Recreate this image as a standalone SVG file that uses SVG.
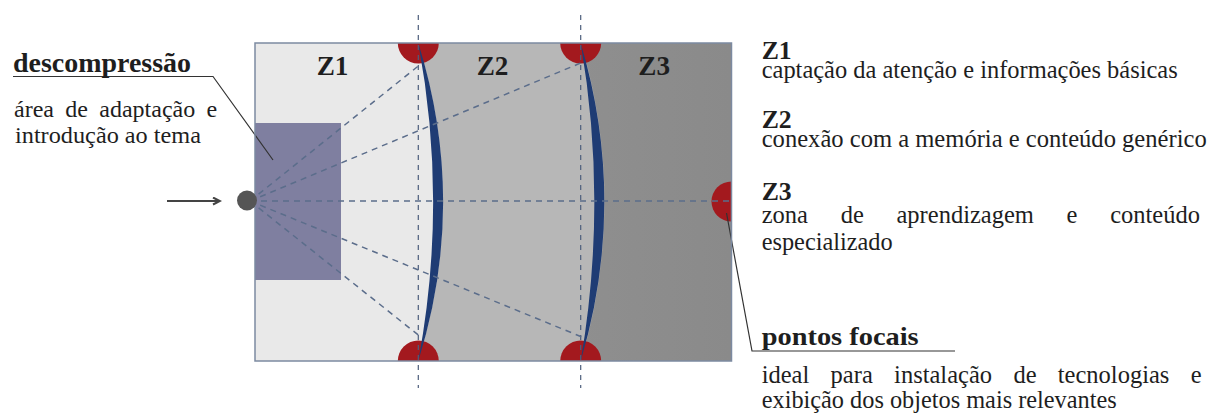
<svg xmlns="http://www.w3.org/2000/svg" width="1211" height="416" viewBox="0 0 1211 416">
<style>
text{font-family:"Liberation Serif","Times New Roman",Tinos,"Noto Serif","DejaVu Serif",serif;fill:#1e1e1e}
.r{font-size:24.5px}
.l{font-size:24px}
.b{font-weight:bold}
.ray{stroke:#5b6d8b;stroke-width:1.5;stroke-dasharray:6 5;fill:none}
.vd{stroke:#4d5e7c;stroke-width:1.2;stroke-dasharray:5 5;fill:none}
.lead{stroke:#333;stroke-width:1.2;fill:none}
.red{fill:#a3191e}
.cres{fill:#1f3c74}
</style>
<defs>
<marker id="ah" markerWidth="10" markerHeight="10" refX="8" refY="4" orient="auto" markerUnits="userSpaceOnUse">
<path d="M1,0.5 L8,4 L1,7.5" fill="none" stroke="#444" stroke-width="2"/>
</marker>
<clipPath id="box"><rect x="255" y="43" width="476.5" height="318"/></clipPath>
<linearGradient id="g3" x1="0" x2="1" y1="0" y2="0"><stop offset="0" stop-color="#999"/><stop offset="1" stop-color="#8a8a8a"/></linearGradient>
</defs>
<g id="zones" clip-path="url(#box)">
<rect id="z3" x="255" y="43" width="476.5" height="318" fill="url(#g3)"/>
<path id="z2" d="M255,43 L581,43 Q628,202 581,361 L255,361 Z" fill="#b7b7b7"/>
<path id="z1" d="M255,43 L418,43 Q468,202 418,361 L255,361 Z" fill="#e9e9e9"/>
<rect id="decomp-area" x="255" y="123" width="86" height="157" fill="#7f7fa0"/>
<circle class="red" cx="418.3" cy="43" r="20.5"/>
<circle class="red" cx="580.7" cy="43" r="20.5"/>
<circle class="red" cx="418.3" cy="361" r="20.5"/>
<circle class="red" cx="580.7" cy="361" r="20.5"/>
<circle class="red" cx="731.5" cy="201.5" r="20"/>
<path class="cres" d="M418.3,43 Q468,202 418.3,361 Q448,202 418.3,43 Z"/>
<path class="cres" d="M580.7,43 Q628,202 580.7,361 Q608,202 580.7,43 Z"/>
</g>
<g id="connectors">
<line class="vd" x1="418.3" y1="15" x2="418.3" y2="388"/>
<line class="vd" x1="580.7" y1="15" x2="580.7" y2="388"/>
<line class="ray" x1="250" y1="201" x2="418.3" y2="66"/>
<line class="ray" x1="250" y1="201" x2="580.7" y2="63"/>
<line class="ray" x1="250" y1="201" x2="731" y2="201"/>
<line class="ray" x1="250" y1="201" x2="582" y2="337"/>
<line class="ray" x1="250" y1="201" x2="418.3" y2="335"/>
<line x1="167" y1="201" x2="220" y2="201" stroke="#444" stroke-width="2" marker-end="url(#ah)"/>
<polyline class="lead" points="13,76.5 213,76.5 273,160"/>
<polyline class="lead" points="726.5,213 752,351 955,351"/>
</g>
<rect id="frame" x="255" y="43" width="476.5" height="318" fill="none" stroke="#7c8aa1" stroke-width="1.5"/>
<g id="entry">
<circle cx="247" cy="200.5" r="10" fill="#555"/>
</g>
<g id="zone-labels">
<text class="b" x="316.7" y="75" font-size="28" textLength="31.7" lengthAdjust="spacingAndGlyphs">Z1</text>
<text class="b" x="476.7" y="75" font-size="28" textLength="31.7" lengthAdjust="spacingAndGlyphs">Z2</text>
<text class="b" x="638.3" y="75" font-size="28" textLength="31.7" lengthAdjust="spacingAndGlyphs">Z3</text>
</g>
<g id="descompressao">
<text class="b" x="13" y="71.5" font-size="27" textLength="178" lengthAdjust="spacingAndGlyphs">descompressão</text>
<text class="l" y="116.7"><tspan x="14">área</tspan><tspan x="65.3">de</tspan><tspan x="99.3">adaptação</tspan><tspan x="206.6">e</tspan></text>
<text class="l" x="15" y="143.3" textLength="186" lengthAdjust="spacingAndGlyphs">introdução ao tema</text>
</g>
<g id="legend-z1">
<text class="b" x="761.7" y="58.5" font-size="25" textLength="30" lengthAdjust="spacingAndGlyphs">Z1</text>
<text class="r" x="761.7" y="77.7" textLength="416" lengthAdjust="spacingAndGlyphs">captação da atenção e informações básicas</text>
</g>
<g id="legend-z2">
<text class="b" x="761.7" y="127.5" font-size="25" textLength="30" lengthAdjust="spacingAndGlyphs">Z2</text>
<text class="r" x="761.7" y="146.7" textLength="445" lengthAdjust="spacingAndGlyphs">conexão com a memória e conteúdo genérico</text>
</g>
<g id="legend-z3">
<text class="b" x="761.7" y="199.5" font-size="25" textLength="30" lengthAdjust="spacingAndGlyphs">Z3</text>
<text class="r" y="223.3"><tspan x="761.7">zona</tspan><tspan x="840.7">de</tspan><tspan x="896.5">aprendizagem</tspan><tspan x="1066.6">e</tspan><tspan x="1110.2">conteúdo</tspan></text>
<text class="r" x="761.7" y="250" textLength="131" lengthAdjust="spacingAndGlyphs">especializado</text>
</g>
<g id="pontos-focais">
<text class="b" x="761.7" y="345" font-size="26" textLength="157" lengthAdjust="spacingAndGlyphs">pontos focais</text>
<text class="r" y="383.3"><tspan x="761.7">ideal</tspan><tspan x="830.6">para</tspan><tspan x="894.1">instalação</tspan><tspan x="1013.4">de</tspan><tspan x="1057.8">tecnologias</tspan><tspan x="1190.7">e</tspan></text>
<text class="r" x="761.7" y="408.3" textLength="355" lengthAdjust="spacingAndGlyphs">exibição dos objetos mais relevantes</text>
</g>
</svg>
